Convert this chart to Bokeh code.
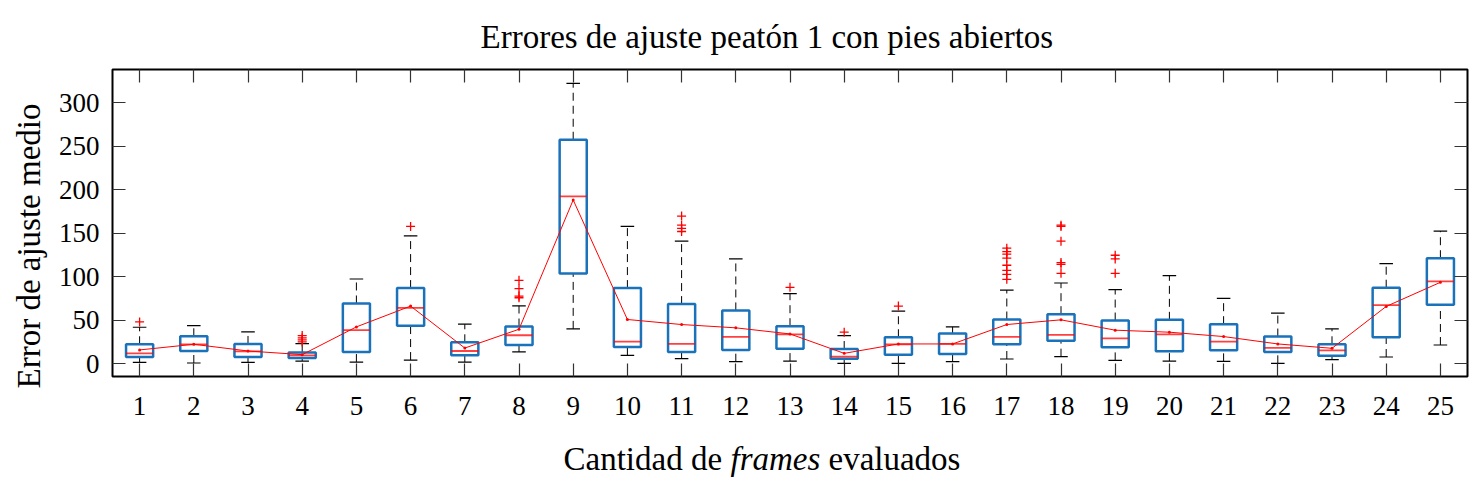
#Boxplot of fit errors per number of frames, bokeh
import numpy as np

from bokeh.plotting import figure
from bokeh.layouts import column
from bokeh.models import ColumnDataSource, LinearAxis, FixedTicker, Range1d, Title
from bokeh.core.properties import value
from bokeh.embed import file_html
from bokeh.resources import INLINE

############ DATA #############

frames = list(range(1, 26))
lower_whisker = [1.5, 0.8, 1.5, 3.0, 1.9, 4.2, 1.9, 13.5, 40.0, 9.6, 5.8, 2.3, 3.0,
                 0.4, 0.4, 2.3, 5.4, 8.1, 3.8, 3.0, 2.7, 0.4, 4.6, 7.7, 21.5]
q1 = [7.7, 14.6, 7.7, 6.5, 13.5, 43.5, 9.6, 21.5, 103.5, 19.2, 13.5, 15.8, 17.3,
      5.8, 10.4, 11.2, 22.3, 26.5, 18.8, 14.2, 15.4, 13.5, 9.2, 30.4, 67.7]
median = [11.9, 22.3, 14.2, 9.6, 38.5, 64.2, 14.6, 32.7, 192.3, 25.4, 22.7, 30.8, 33.8,
          8.1, 22.3, 22.7, 30.8, 33.1, 29.2, 33.8, 25.4, 18.1, 15.4, 67.3, 94.6]
q3 = [22.3, 31.5, 22.7, 13.0, 69.2, 86.9, 24.6, 42.7, 257.3, 86.9, 68.5, 61.2, 43.1,
      16.9, 30.4, 34.6, 50.8, 56.9, 49.6, 50.4, 45.4, 31.2, 22.3, 87.3, 121.2]
upper_whisker = [41.9, 43.8, 36.5, 23.0, 97.3, 146.9, 45.4, 66.5, 322.0, 157.7, 140.8, 120.4, 80.4,
                 32.3, 60.4, 42.3, 84.6, 92.7, 85.0, 101.2, 75.0, 58.1, 40.0, 115.0, 152.3]
means = [15.8, 22.3, 14.6, 10.4, 42.3, 66.2, 18.0, 39.6, 188.1, 50.8, 45.0, 41.2, 34.2,
         11.9, 22.7, 22.7, 45.0, 50.4, 38.5, 36.2, 31.2, 22.7, 17.7, 65.8, 93.5]

outlier_frames = [1, 4, 4, 4, 4, 6, 8, 8, 8, 8, 11, 11, 11, 11, 13, 14, 15,
                  17, 17, 17, 17, 17, 17, 17, 17, 18, 18, 18, 18, 18, 18, 19, 19, 19]
outlier_values = [48.0, 32.3, 29.6, 27.3, 25.0, 157.7, 95.8, 86.2, 77.7, 75.8,
                  169.6, 159.2, 155.4, 151.9, 87.7, 36.2, 66.2,
                  132.7, 128.8, 125.8, 121.2, 113.1, 107.3, 102.7, 96.9,
                  159.2, 157.7, 140.8, 116.2, 114.2, 103.8, 124.6, 120.4, 103.8]

y_ticks = [0, 50, 100, 150, 200, 250, 300]

############ FIGURE #############

FONT = "Liberation Serif"
BLUE = "#1a72bb"
RED = "#ff0000"

src = ColumnDataSource(dict(x=np.array(frames, dtype=float), lw=lower_whisker, q1=q1,
                            med=median, q3=q3, uw=upper_whisker, mean=means))

p = figure(width=1473, height=430, output_backend="svg", toolbar_location=None,
           x_range=Range1d(0.5, 25.5), y_range=Range1d(-14.7, 338),
           min_border_left=112, min_border_right=6, min_border_top=69, min_border_bottom=54)
p.grid.visible = False
p.outline_line_color = "black"
p.outline_line_width = 2
p.background_fill_color = "white"

p.title.text = "Errores de ajuste peatón 1 con pies abiertos"
p.title.text_font = FONT
p.title.text_font_size = "33px"
p.title.text_font_style = "normal"
p.title.text_color = "black"
p.title.align = "left"
p.title.offset = 368
p.title.standoff = 30

# whiskers (dashed) and caps
p.segment(x0="x", y0="q3", x1="x", y1="uw", source=src, line_color="black", line_width=1, line_dash="8 5")
p.segment(x0="x", y0="lw", x1="x", y1="q1", source=src, line_color="black", line_width=1, line_dash="8 5")
caps_x0 = [f - 0.125 for f in frames]
caps_x1 = [f + 0.125 for f in frames]
p.segment(x0=caps_x0, y0=upper_whisker, x1=caps_x1, y1=upper_whisker, line_color="black", line_width=1.2)
p.segment(x0=caps_x0, y0=lower_whisker, x1=caps_x1, y1=lower_whisker, line_color="black", line_width=1.2)

# boxes and medians
p.quad(left=[f - 0.25 for f in frames], right=[f + 0.25 for f in frames], bottom=q1, top=q3,
       fill_color=None, line_color=BLUE, line_width=2.5)
p.segment(x0=[f - 0.25 for f in frames], y0=median, x1=[f + 0.25 for f in frames], y1=median,
          line_color=RED, line_alpha=0.75, line_width=1.8)

# mean line
p.line("x", "mean", source=src, line_color=RED, line_width=1)
p.scatter("x", "mean", source=src, marker="circle", size=3, fill_color=RED, line_color=None)

# outliers
p.scatter(outlier_frames, outlier_values, marker="cross", size=9, line_color=RED, line_width=1.3)

############ AXES #############

def style_axis(ax, show_labels):
    ax.axis_line_color = None
    ax.major_tick_in = 13
    ax.major_tick_out = 0
    ax.minor_tick_line_color = None
    ax.major_tick_line_color = "#333333"
    ax.major_tick_line_width = 1.2
    ax.major_label_text_font = FONT
    if show_labels:
        ax.major_label_text_font_size = "27px"
        ax.major_label_text_color = "black"
    else:
        ax.major_label_text_font_size = "1px"
        ax.major_label_text_color = None
        ax.major_label_standoff = 0

p.xaxis.ticker = FixedTicker(ticks=frames)
p.yaxis.ticker = FixedTicker(ticks=y_ticks)
style_axis(p.xaxis[0], True)
style_axis(p.yaxis[0], True)
p.xaxis.major_label_standoff = 20
p.yaxis.major_label_standoff = 13

top_ax = LinearAxis(ticker=FixedTicker(ticks=frames))
right_ax = LinearAxis(ticker=FixedTicker(ticks=y_ticks))
style_axis(top_ax, False)
style_axis(right_ax, False)
p.add_layout(top_ax, "above")
p.add_layout(right_ax, "right")

# y label as a side title, so it can sit a bit low like the original
ylabel = Title(text="Error de ajuste medio", align="left", offset=-12, standoff=17,
               text_font=FONT, text_font_size="33px", text_font_style="normal", text_color="black")
p.add_layout(ylabel, "left")

############ X LABEL (italic "frames") #############

# the column lines this frame up with the main one, so x runs in page pixels 112..1467
lab = figure(width=1473, height=61, output_backend="svg", toolbar_location=None, title=None,
             x_range=Range1d(112, 1467), y_range=Range1d(0, 61),
             min_border_left=0, min_border_right=0, min_border_top=0, min_border_bottom=0)
lab.axis.visible = False
lab.grid.visible = False
lab.outline_line_color = None

parts = [("Cantidad de", "normal", 563), ("frames", "italic", 730), ("evaluados", "normal", 828)]
for txt, style, xpos in parts:
    lab.text(x=[xpos], y=[33], text=[txt], text_font=value(FONT), text_font_size="33px",
             text_font_style=style, text_align="left", text_baseline="alphabetic", text_color="black")

layout = column(p, lab, spacing=0)
open("out.html", "w").write(file_html(layout, INLINE))
